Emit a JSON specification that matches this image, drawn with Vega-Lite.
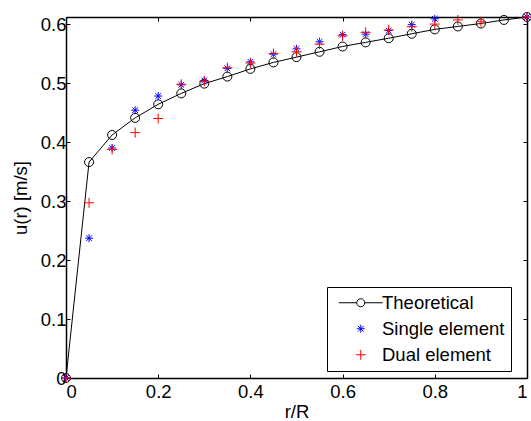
{
  "$schema": "https://vega.github.io/schema/vega-lite/v6.json",
  "width": 461,
  "height": 361,
  "autosize": {"type": "none"},
  "padding": {"left": 66, "top": 17, "right": 4, "bottom": 43},
  "background": "white",
  "config": {
    "view": {"stroke": null},
    "font": "Liberation Sans",
    "axis": {
      "grid": false,
      "domainColor": "black",
      "domainWidth": 1.5,
      "tickColor": "black",
      "tickWidth": 1,
      "tickSize": -4,
      "labelColor": "black",
      "labelFont": "Liberation Sans",
      "labelFontSize": 18.5,
      "titleFont": "Liberation Sans",
      "titleFontSize": 18.5,
      "titleFontWeight": "normal",
      "titleColor": "black"
    }
  },
  "data": {
    "values": [
      {"r": 0, "u": 0, "series": "Theoretical"},
      {"r": 0.05, "u": 0.366, "series": "Theoretical"},
      {"r": 0.1, "u": 0.412, "series": "Theoretical"},
      {"r": 0.15, "u": 0.441, "series": "Theoretical"},
      {"r": 0.2, "u": 0.464, "series": "Theoretical"},
      {"r": 0.25, "u": 0.4825, "series": "Theoretical"},
      {"r": 0.3, "u": 0.499, "series": "Theoretical"},
      {"r": 0.35, "u": 0.511, "series": "Theoretical"},
      {"r": 0.4, "u": 0.524, "series": "Theoretical"},
      {"r": 0.45, "u": 0.535, "series": "Theoretical"},
      {"r": 0.5, "u": 0.544, "series": "Theoretical"},
      {"r": 0.55, "u": 0.553, "series": "Theoretical"},
      {"r": 0.6, "u": 0.562, "series": "Theoretical"},
      {"r": 0.65, "u": 0.569, "series": "Theoretical"},
      {"r": 0.7, "u": 0.576, "series": "Theoretical"},
      {"r": 0.75, "u": 0.5836, "series": "Theoretical"},
      {"r": 0.8, "u": 0.591, "series": "Theoretical"},
      {"r": 0.85, "u": 0.596, "series": "Theoretical"},
      {"r": 0.9, "u": 0.601, "series": "Theoretical"},
      {"r": 0.95, "u": 0.607, "series": "Theoretical"},
      {"r": 1, "u": 0.612, "series": "Theoretical"},
      {"r": 0, "u": 0, "series": "Single element"},
      {"r": 0.05, "u": 0.237, "series": "Single element"},
      {"r": 0.1, "u": 0.39, "series": "Single element"},
      {"r": 0.15, "u": 0.454, "series": "Single element"},
      {"r": 0.2, "u": 0.478, "series": "Single element"},
      {"r": 0.25, "u": 0.497, "series": "Single element"},
      {"r": 0.3, "u": 0.5045, "series": "Single element"},
      {"r": 0.35, "u": 0.525, "series": "Single element"},
      {"r": 0.4, "u": 0.536, "series": "Single element"},
      {"r": 0.45, "u": 0.549, "series": "Single element"},
      {"r": 0.5, "u": 0.558, "series": "Single element"},
      {"r": 0.55, "u": 0.57, "series": "Single element"},
      {"r": 0.6, "u": 0.582, "series": "Single element"},
      {"r": 0.65, "u": 0.583, "series": "Single element"},
      {"r": 0.7, "u": 0.589, "series": "Single element"},
      {"r": 0.75, "u": 0.599, "series": "Single element"},
      {"r": 0.8, "u": 0.609, "series": "Single element"},
      {"r": 1, "u": 0.612, "series": "Single element"},
      {"r": 0, "u": 0, "series": "Dual element"},
      {"r": 0.05, "u": 0.297, "series": "Dual element"},
      {"r": 0.1, "u": 0.3875, "series": "Dual element"},
      {"r": 0.15, "u": 0.416, "series": "Dual element"},
      {"r": 0.2, "u": 0.44, "series": "Dual element"},
      {"r": 0.25, "u": 0.498, "series": "Dual element"},
      {"r": 0.3, "u": 0.503, "series": "Dual element"},
      {"r": 0.35, "u": 0.526, "series": "Dual element"},
      {"r": 0.4, "u": 0.534, "series": "Dual element"},
      {"r": 0.45, "u": 0.55, "series": "Dual element"},
      {"r": 0.5, "u": 0.553, "series": "Dual element"},
      {"r": 0.55, "u": 0.566, "series": "Dual element"},
      {"r": 0.6, "u": 0.58, "series": "Dual element"},
      {"r": 0.65, "u": 0.586, "series": "Dual element"},
      {"r": 0.7, "u": 0.59, "series": "Dual element"},
      {"r": 0.75, "u": 0.5955, "series": "Dual element"},
      {"r": 0.8, "u": 0.6, "series": "Dual element"},
      {"r": 0.85, "u": 0.607, "series": "Dual element"},
      {"r": 0.9, "u": 0.604, "series": "Dual element"},
      {"r": 1, "u": 0.612, "series": "Dual element"}
    ]
  },
  "layer": [
    {
      "layer": [
        {
          "transform": [{"filter": "datum.series === 'Theoretical'"}],
          "mark": {"type": "line", "color": "black", "strokeWidth": 1},
          "encoding": {
            "x": {"field": "r", "type": "quantitative", "scale": {"domain": [0, 1], "nice": false, "zero": false},
              "axis": {"title": "r/R", "values": [0, 0.2, 0.4, 0.6, 0.8, 1], "format": ".1~f", "labelPadding": 8, "titlePadding": 2}},
            "y": {"field": "u", "type": "quantitative", "scale": {"domain": [0, 0.612], "nice": false, "zero": false},
              "axis": {"title": "u(r) [m/s]", "values": [0, 0.1, 0.2, 0.3, 0.4, 0.5, 0.6], "format": ".1~f", "labelPadding": 4, "titlePadding": 10}}
          }
        },
        {
          "transform": [{"filter": "datum.series === 'Theoretical'"}],
          "mark": {"type": "point", "shape": "circle", "filled": false, "color": "black", "strokeWidth": 1, "size": 81, "opacity": 1},
          "encoding": {
            "x": {"field": "r", "type": "quantitative"},
            "y": {"field": "u", "type": "quantitative"}
          }
        },
        {
          "transform": [{"filter": "datum.series !== 'Theoretical'"}],
          "mark": {"type": "point", "filled": false, "strokeWidth": 1, "size": 64, "opacity": 1},
          "encoding": {
            "x": {"field": "r", "type": "quantitative"},
            "y": {"field": "u", "type": "quantitative"},
            "color": {"field": "series", "type": "nominal",
              "scale": {"domain": ["Theoretical", "Single element", "Dual element"], "range": ["black", "blue", "red"]},
              "legend": {
                "title": null, "orient": "none", "legendX": 261, "legendY": 270,
                "strokeColor": "black", "fillColor": "white", "padding": 6.5,
                "symbolOffset": 18, "labelOffset": 12, "rowPadding": 7,
                "symbolSize": 64, "symbolStrokeWidth": 1,
                "labelFont": "Liberation Sans", "labelFontSize": 18.5, "labelColor": "black"
              }},
            "shape": {"field": "series", "type": "nominal",
              "scale": {"domain": ["Theoretical", "Single element", "Dual element"],
                "range": ["M-5.5,0L-1,0M1,0L5.5,0M-1,0A1,1 0 1,0 1,0A1,1 0 1,0 -1,0", "M0,-1L0,1M-1,0L1,0M-0.7,-0.7L0.7,0.7M-0.7,0.7L0.7,-0.7", "M0,-1.25L0,1.25M-1.25,0L1.25,0"]}}
          }
        }
      ]
    },
    {
      "transform": [{"filter": "datum.series === 'Theoretical'"}],
      "mark": {"type": "point", "opacity": 0},
      "encoding": {
        "x": {"field": "r", "type": "quantitative", "axis": {"orient": "top", "labels": false, "title": null, "values": [0, 0.2, 0.4, 0.6, 0.8, 1]}},
        "y": {"field": "u", "type": "quantitative", "axis": {"orient": "right", "labels": false, "title": null, "values": [0, 0.1, 0.2, 0.3, 0.4, 0.5, 0.6]}}
      }
    }
  ],
  "resolve": {"axis": {"x": "independent", "y": "independent"}}
}
